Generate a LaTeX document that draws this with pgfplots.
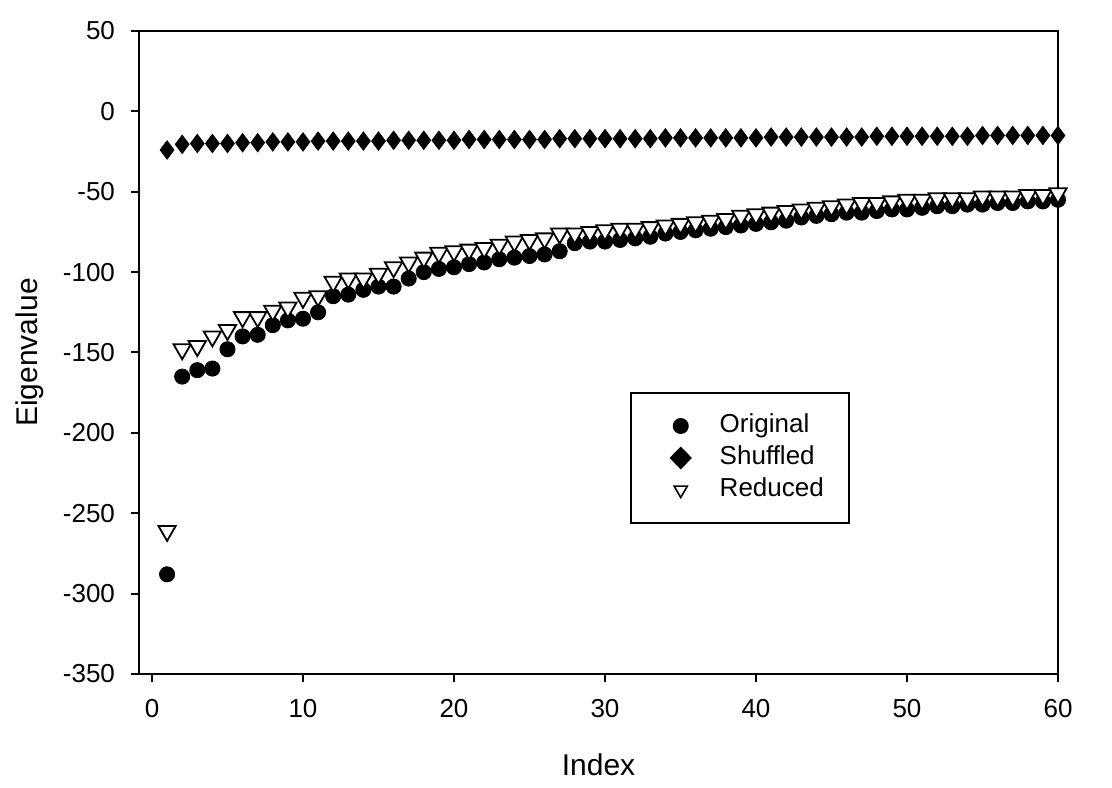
\documentclass[border=0pt]{standalone}
\usepackage{fontspec}
\setmainfont{Liberation Sans}
\usepackage{pgfplots}
\pgfplotsset{compat=1.18}
\usetikzlibrary{calc}

\pgfplotsset{
  legimg/.style={legend image code/.code={
    \path (0pt,0pt) (31pt,0pt);
    \draw[##1] plot coordinates {(13.5pt,0pt)};}},
}

\pgfplotstableread{
x orig shuf red
1 -288 -24 -261
2 -165 -20.5 -148
3 -161 -20 -146
4 -160 -20 -140
5 -148 -20 -136
6 -140 -19.5 -128
7 -139 -19.5 -128
8 -133 -19 -124
9 -130 -19 -122
10 -129 -19 -116
11 -125 -18.5 -115
12 -115 -18.5 -106
13 -114 -18.5 -104
14 -111 -18.5 -104
15 -109 -18.5 -101
16 -109 -18 -97
17 -104 -18 -94
18 -100 -18 -91
19 -98 -18 -88
20 -97 -18 -87
21 -95 -17.5 -86
22 -94 -17.5 -85
23 -92 -17.5 -83
24 -91 -17.5 -81
25 -90 -17.5 -80
26 -89 -17.5 -79
27 -87 -17 -76
28 -82 -17 -76
29 -81 -17 -75
30 -81 -17 -74
31 -80 -17 -73
32 -79 -17 -73
33 -78 -17 -72
34 -76 -16.5 -71
35 -75 -16.5 -70
36 -74 -16.5 -69
37 -73 -16.5 -68
38 -72 -16.5 -67
39 -71 -16.5 -65
40 -70 -16.5 -64
41 -69 -16 -63
42 -68 -16 -62
43 -66 -16 -61
44 -65 -16 -60
45 -64 -16 -59
46 -63 -16 -58
47 -63 -16 -57
48 -62 -15.5 -57
49 -61 -15.5 -56
50 -61 -15.5 -55
51 -60 -15.5 -55
52 -59 -15.5 -54
53 -59 -15.5 -54
54 -58 -15.5 -54
55 -58 -15 -53
56 -57 -15 -53
57 -57 -15 -53
58 -56 -15 -52
59 -56 -15 -52
60 -55 -15 -51
}\eig

\begin{document}
\begin{tikzpicture}
\begin{axis}[
  name=ax,
  scale only axis,
  width=459.5pt, height=321.5pt,
  xmin=-0.86, xmax=60,
  ymin=-350, ymax=50,
  xtick={0,10,...,60},
  ytick={-350,-300,...,50},
  tick align=outside,
  xtick pos=bottom, ytick pos=left,
  major tick length=4pt,
  every tick/.style={black, line width=1pt},
  axis line style={line width=1pt},
  /pgf/number format/assume math mode=true,
  tick label style={font=\fontsize{13}{15}\selectfont},
  xticklabel style={yshift=-5pt},
  yticklabel style={xshift=-4.5pt},
  xlabel={Index}, ylabel={Eigenvalue},
  every axis x label/.style={at={(axis description cs:0.5,-0.1415)}, anchor=center, font=\fontsize{15}{18}\selectfont},
  every axis y label/.style={at={(axis description cs:-0.1186,0.5)}, anchor=center, rotate=90, font=\fontsize{15}{18}\selectfont},
  legend style={at={(axis description cs:0.534,0.4386)}, anchor=north west,
    draw=black, line width=1pt, inner xsep=11pt, inner ysep=8.5pt, row sep=0pt,
    font=\fontsize{13}{16}\selectfont,
    nodes={text height=10pt, text depth=3pt, inner sep=1.5pt}},
  legend cell align=left,
]
\addplot[only marks, mark=*, mark size=3.8pt, black, forget plot] table[x=x, y=orig] {\eig};
\addplot[only marks, mark=diamond*, mark size=4.6pt, black, forget plot] table[x=x, y=shuf] {\eig};
\addplot[only marks, mark=triangle*, mark size=5pt, mark options={rotate=180, fill=white, draw=black, line width=0.9pt}, forget plot] table[x=x, y=red] {\eig};
\addlegendimage{only marks, mark=*, mark size=3.5pt, black, legimg}
\addlegendentry{Original}
\addlegendimage{only marks, mark=diamond*, mark size=5pt, mark options={xscale=1.3}, black, legimg}
\addlegendentry{Shuffled}
\addlegendimage{only marks, mark=triangle*, mark size=3.8pt, mark options={rotate=180, fill=white, draw=black, line width=0.8pt}, legimg}
\addlegendentry{Reduced}
\end{axis}
\pgfresetboundingbox
\path[use as bounding box] ($(ax.south west)+(-69.5pt,-57pt)$) rectangle ($(ax.north east)+(27pt,15.5pt)$);
\end{tikzpicture}
\end{document}
